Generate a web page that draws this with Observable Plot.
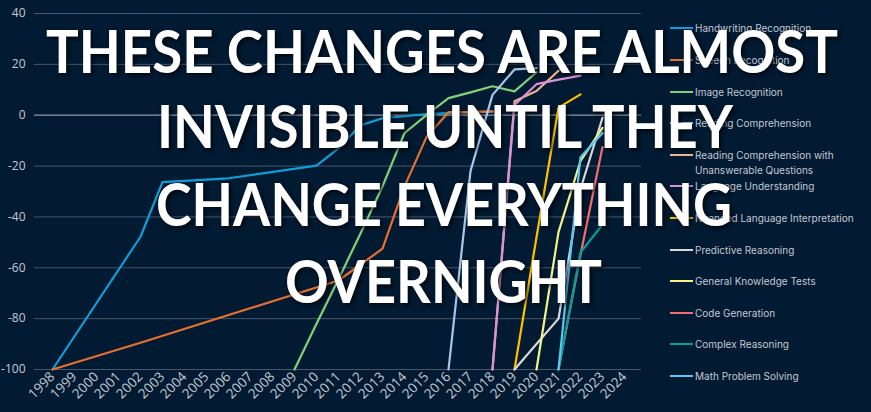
<!DOCTYPE html>
<html>
<head>
<meta charset="utf-8">
<script src="https://cdn.jsdelivr.net/npm/d3@7"></script>
<script src="https://cdn.jsdelivr.net/npm/@observablehq/plot@0.6"></script>
<style>
  html, body { margin: 0; padding: 0; background: #021a32; }
  #wrap { position: relative; width: 871px; height: 412px; overflow: hidden; background: #021a32; }
  #chart { position: absolute; left: 0; top: 0; }
  #legend { position: absolute; left: 0; top: 0; width: 871px; height: 412px; font-family: Inter, Roboto, sans-serif; font-size: 10px; color: #c3c9d2; }
  .item { position: absolute; left: 670px; display: flex; align-items: flex-start; }
  .sw { width: 23px; height: 0; border-top: 2.5px solid; margin-top: 5.5px; margin-right: 2px; flex: none; }
  .lab { line-height: 15px; white-space: nowrap; }
  #overlay { position: absolute; left: 0; top: 0; pointer-events: none; overflow: visible; filter: drop-shadow(2px 2px 2px rgba(0,0,0,0.75)); }
</style>
</head>
<body>
<div id="wrap">
  <div id="chart"></div>
  <div id="legend"></div>
  <svg id="overlay" width="871" height="412"></svg>
</div>
<script>
// ---- Data ----
const years = [1998, 1999, 2000, 2001, 2002, 2003, 2004, 2005, 2006, 2007, 2008, 2009, 2010, 2011, 2012, 2013, 2014, 2015, 2016, 2017, 2018, 2019, 2020, 2021, 2022, 2023, 2024];
const yTicks = [-100, -80, -60, -40, -20, 0, 20, 40];

const seriesNames = [
  "Handwriting Recognition",
  "Speech Recognition",
  "Image Recognition",
  "Reading Comprehension",
  "Reading Comprehension with Unanswerable Questions",
  "Language Understanding",
  "Nuanced Language Interpretation",
  "Predictive Reasoning",
  "General Knowledge Tests",
  "Code Generation",
  "Complex Reasoning",
  "Math Problem Solving"
];
const seriesColors = ["#0f9ed8", "#e8702f", "#7fd27a", "#a8c8ea", "#f2b38f", "#d992d6", "#ffc000", "#d9d9d9", "#f4f48a", "#f56d6d", "#00a19a", "#5cc8f2"];

const handwriting = [[1998, -100], [2002, -47.8], [2003, -26.3], [2006, -24.8], [2010, -19.8], [2011, -13], [2012, -4], [2013, -1.2], [2014, -0.4], [2015, 0.4], [2016, 0.8], [2017, 1.2], [2018, 1.4]];
const speech = [[1998, -100], [2002, -89.5], [2011, -65], [2013, -52.5], [2014, -28], [2015, -8.6], [2016, 1.2], [2017, 1.2], [2018, 1.5]];
const image = [[2009, -100], [2010, -82], [2011, -64.5], [2012, -46.5], [2013, -28], [2014, -7], [2015, 0], [2016, 6.7], [2017, 9], [2018, 11.4], [2019, 9.4], [2020, 16.9]];
const reading = [[2016, -100], [2017, -22], [2018, 8], [2019, 18], [2020, 18.5]];
const readingUnanswerable = [[2018, -100], [2019, 5.5], [2020, 9.5], [2021, 17.5]];
const language = [[2018, -100], [2019, 4], [2020, 12.2], [2021, 14], [2022, 15.6]];
const nuanced = [[2019, -100], [2020, -48], [2021, 3], [2022, 8.2]];
const predictive = [[2019, -100], [2020, -90], [2021, -80], [2022, -29], [2023, -1]];
const generalKnowledge = [[2020, -100], [2021, -46], [2022, -18], [2023, -5]];
const codeGen = [[2021, -100], [2022, -55], [2023, -12.5]];
const complexReasoning = [[2021, -100], [2022, -54], [2023, -43]];
const mathSolving = [[2021, -100], [2022, -16.5], [2023, -7]];

const seriesValues = [handwriting, speech, image, reading, readingUnanswerable, language, nuanced, predictive, generalKnowledge, codeGen, complexReasoning, mathSolving];

const legendLines = [
  ["Handwriting Recognition"],
  ["Speech Recognition"],
  ["Image Recognition"],
  ["Reading Comprehension"],
  ["Reading Comprehension with", "Unanswerable Questions"],
  ["Language Understanding"],
  ["Nuanced Language Interpretation"],
  ["Predictive Reasoning"],
  ["General Knowledge Tests"],
  ["Code Generation"],
  ["Complex Reasoning"],
  ["Math Problem Solving"]
];

const headline = ["THESE CHANGES ARE ALMOST", "INVISIBLE UNTIL THEY", "CHANGE EVERYTHING", "OVERNIGHT"];

// ---- Build table ----
const rows = seriesValues.flatMap((vals, i) => vals.map(([year, value]) => ({name: seriesNames[i], year, value})));

const chart = Plot.plot({
  width: 871,
  height: 412,
  marginLeft: 34,
  marginRight: 230,
  marginTop: 13,
  marginBottom: 43,
  style: {background: "transparent", color: "#c3cad3", fontFamily: "'Open Sans', sans-serif"},
  x: {type: "point", domain: years, padding: 0.5, label: null},
  y: {domain: [-100, 40], label: null},
  color: {domain: seriesNames, range: seriesColors},
  marks: [
    Plot.ruleY(yTicks, {stroke: "#47576b", strokeWidth: 1}),
    Plot.ruleY([0], {stroke: "#7d8a9a", strokeWidth: 1.2}),
    Plot.axisY({ticks: yTicks, tickSize: 0, tickPadding: 9, label: null, tickFormat: d => String(d)}),
    Plot.axisX({ticks: years, tickSize: 0, tickPadding: 5, tickRotate: -45, label: null, tickFormat: d => String(d)}),
    Plot.line(rows, {x: "year", y: "value", z: "name", stroke: "name", strokeWidth: 2.2, strokeLinejoin: "round"})
  ]
});
d3.select(chart).selectAll('[aria-label="x-axis tick label"]').attr("font-size", 13.5).style("font-size", "13.5px");
d3.select(chart).selectAll('[aria-label="y-axis tick label"]').attr("font-size", 12).style("font-size", "12px");
document.getElementById("chart").appendChild(chart);

// ---- Legend ----
const legendTops = [21, 53, 85, 116, 148, 179, 211, 243, 274, 306, 337, 369];
const legend = document.getElementById("legend");
seriesNames.forEach((name, i) => {
  const item = document.createElement("div");
  item.className = "item";
  item.style.top = legendTops[i] + "px";
  const sw = document.createElement("div");
  sw.className = "sw";
  sw.style.borderTopColor = seriesColors[i];
  const lab = document.createElement("div");
  lab.className = "lab";
  lab.innerHTML = legendLines[i].join("<br>");
  item.appendChild(sw);
  item.appendChild(lab);
  legend.appendChild(item);
});

// ---- Headline overlay ----
const ov = d3.select("#overlay");
const hx = [46, 157, 156, 285];
const hw = [792, 576, 576, 317];
const hy = [73, 148, 226, 303];
headline.forEach((t, i) => {
  ov.append("text")
    .attr("x", hx[i])
    .attr("y", hy[i])
    .attr("textLength", hw[i])
    .attr("lengthAdjust", "spacingAndGlyphs")
    .attr("fill", "#ffffff")
    .attr("font-family", "Lato, 'Open Sans', sans-serif")
    .attr("font-weight", 700)
    .attr("font-size", 59)
    .text(t);
});
</script>
</body>
</html>
